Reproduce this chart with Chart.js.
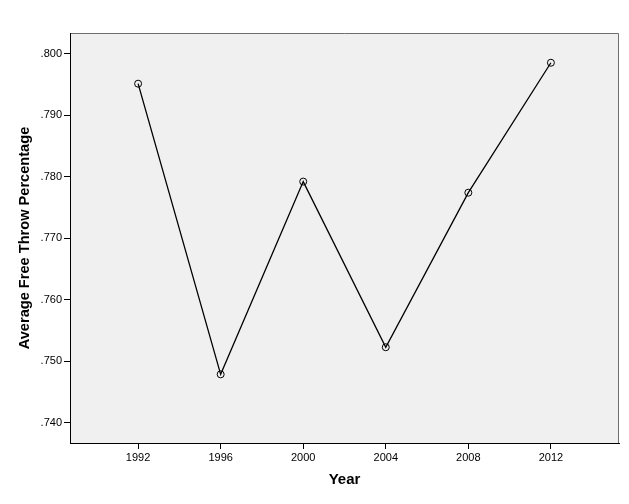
<!DOCTYPE html>
<html>
<head>
<meta charset="utf-8">
<script src="https://cdn.jsdelivr.net/npm/chart.js@4/dist/chart.umd.min.js"></script>
<style>
  html, body { margin: 0; padding: 0; background: #ffffff; }
  #wrap { width: 629px; height: 504px; }
</style>
</head>
<body>
<div id="wrap"><canvas id="chart" width="629" height="504"></canvas></div>
<script>
// values
const years = [1992, 1996, 2000, 2004, 2008, 2012];
const avgFreeThrow = [0.7951, 0.7479, 0.7792, 0.7523, 0.7774, 0.7985];
const yTicks = [0.740, 0.750, 0.760, 0.770, 0.780, 0.790, 0.800];

const FONT = "'Liberation Sans', Arial, sans-serif";

// grey plot background + frame, like the SPSS output
const plotFrame = {
    id: 'plotFrame',
    beforeDraw(chart) {
        const { ctx, chartArea: a } = chart;
        ctx.save();
        ctx.fillStyle = '#f0f0f0';
        ctx.fillRect(a.left, a.top, a.right - a.left, a.bottom - a.top);
        ctx.strokeStyle = '#6e6e6e';
        ctx.lineWidth = 1;
        ctx.beginPath();
        ctx.moveTo(a.left, a.top + 0.5);
        ctx.lineTo(a.right - 0.5, a.top + 0.5);
        ctx.lineTo(a.right - 0.5, a.bottom);
        ctx.stroke();
        ctx.restore();
    }
};

const ctx = document.getElementById("chart").getContext("2d");
new Chart(ctx, {
    type: 'line',
    data: {
        datasets: [{
            data: years.map((y, i) => ({ x: y, y: avgFreeThrow[i] })),
            borderColor: '#000000',
            borderWidth: 1.3,
            pointRadius: 3.5,
            pointBorderWidth: 1,
            pointBorderColor: '#000000',
            pointBackgroundColor: 'rgba(0,0,0,0)',
            tension: 0,
            fill: false
        }]
    },
    options: {
        responsive: false,
        animation: false,
        layout: { padding: { left: 0, right: 10, top: 33, bottom: 0 } },
        plugins: { legend: { display: false }, tooltip: { enabled: false } },
        scales: {
            x: {
                type: 'linear',
                min: 1988.7,
                max: 2015.3,
                afterBuildTicks: (s) => { s.ticks = years.map(v => ({ value: v })); },
                afterFit: (s) => { s.height = 61; },
                ticks: {
                    color: '#000000',
                    font: { family: FONT, size: 11 },
                    padding: 2,
                    maxRotation: 0,
                    callback: (v) => String(v)
                },
                grid: { drawOnChartArea: false, tickLength: 6, color: '#000000' },
                border: { color: '#000000', width: 1 },
                title: {
                    display: true,
                    text: 'Year',
                    color: '#000000',
                    font: { family: FONT, size: 15, weight: 'bold' },
                    padding: { top: 0, bottom: 15 }
                }
            },
            y: {
                min: 0.73675,
                max: 0.80333,
                afterBuildTicks: (s) => { s.ticks = yTicks.map(v => ({ value: v })); },
                afterFit: (s) => { s.width = 70; },
                ticks: {
                    color: '#000000',
                    font: { family: FONT, size: 11 },
                    padding: 2,
                    callback: (v) => v.toFixed(3).replace(/^0/, '')
                },
                grid: { drawOnChartArea: false, tickLength: 6, color: '#000000' },
                border: { color: '#000000', width: 1 },
                title: {
                    display: true,
                    text: 'Average Free Throw Percentage',
                    color: '#000000',
                    font: { family: FONT, size: 14.6, weight: 'bold' },
                    padding: { top: 16, bottom: 0 }
                }
            }
        }
    },
    plugins: [plotFrame]
});
</script>
</body>
</html>
